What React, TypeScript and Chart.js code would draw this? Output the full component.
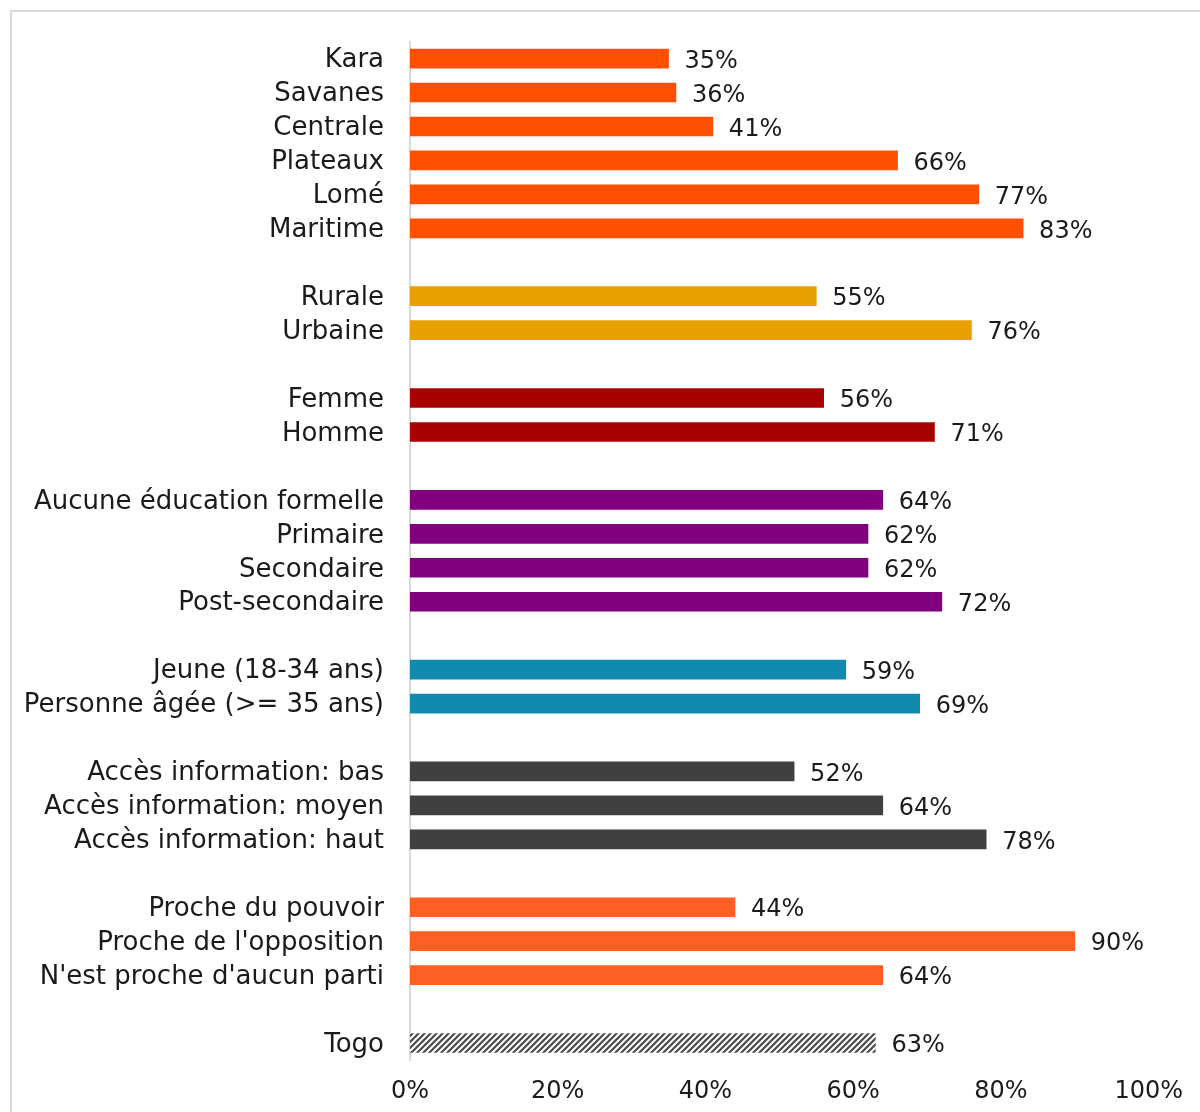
import React, { useEffect, useRef } from "react";
import { Chart, registerables } from "chart.js";

Chart.register(...registerables);

const categories: string[] = [
  "Kara", "Savanes", "Centrale", "Plateaux", "Lomé", "Maritime", "",
  "Rurale", "Urbaine", "",
  "Femme", "Homme", "",
  "Aucune éducation formelle", "Primaire", "Secondaire", "Post-secondaire", "",
  "Jeune (18-34 ans)", "Personne âgée (>= 35 ans)", "",
  "Accès information: bas", "Accès information: moyen", "Accès information: haut", "",
  "Proche du pouvoir", "Proche de l'opposition", "N'est proche d'aucun parti", "",
  "Togo",
];

const values: (number | null)[] = [
  35, 36, 41, 66, 77, 83, null,
  55, 76, null,
  56, 71, null,
  64, 62, 62, 72, null,
  59, 69, null,
  52, 64, 78, null,
  44, 90, 64, null,
  63,
];

const groups: string[] = [
  "region", "region", "region", "region", "region", "region", "",
  "milieu", "milieu", "",
  "genre", "genre", "",
  "education", "education", "education", "education", "",
  "age", "age", "",
  "info", "info", "info", "",
  "parti", "parti", "parti", "",
  "total",
];

const xTicks: number[] = [0, 20, 40, 60, 80, 100];

const groupColors: Record<string, string> = {
  region: "#FF5000",
  milieu: "#E89F00",
  genre: "#A80000",
  education: "#800080",
  age: "#1289AE",
  info: "#404040",
  parti: "#FF5F22",
  "": "#ffffff",
};

const FONT = "'DejaVu Sans', sans-serif";
const LABEL_SIZE = 26;
const VALUE_SIZE = 24;
const TEXT_COLOR = "#1a1a1a";

function makeHatch(): CanvasPattern | string {
  const c = document.createElement("canvas");
  const s = 6;
  c.width = s;
  c.height = s;
  const ctx = c.getContext("2d");
  if (!ctx) return "#404040";
  ctx.fillStyle = "#ffffff";
  ctx.fillRect(0, 0, s, s);
  ctx.strokeStyle = "#4a4a4a";
  ctx.lineWidth = 2.2;
  ctx.beginPath();
  ctx.moveTo(-1, s + 1);
  ctx.lineTo(s + 1, -1);
  ctx.moveTo(-1, 1);
  ctx.lineTo(1, -1);
  ctx.moveTo(s - 1, s + 1);
  ctx.lineTo(s + 1, s - 1);
  ctx.stroke();
  const p = ctx.createPattern(c, "repeat");
  return p || "#404040";
}

const valueLabels = {
  id: "valueLabels",
  afterDatasetsDraw(chart: any) {
    const ctx = chart.ctx;
    const meta = chart.getDatasetMeta(0);
    const data = chart.data.datasets[0].data;
    ctx.save();
    ctx.font = `${VALUE_SIZE}px ${FONT}`;
    ctx.fillStyle = TEXT_COLOR;
    ctx.textAlign = "left";
    ctx.textBaseline = "middle";
    meta.data.forEach((el: any, i: number) => {
      const v = data[i];
      if (v === null || v === undefined) return;
      ctx.fillText(`${v}%`, el.x + 16, el.y + 3);
    });
    ctx.restore();
  },
};

export default function App() {
  const ref = useRef<HTMLCanvasElement | null>(null);

  useEffect(() => {
    document.body.style.margin = "0";
    const canvas = ref.current;
    if (!canvas) return;
    const hatch = makeHatch();
    const colors = groups.map((g) => (g === "total" ? hatch : groupColors[g]));
    const chart = new Chart(canvas, {
      type: "bar",
      data: {
        labels: categories,
        datasets: [
          {
            data: values as any,
            backgroundColor: colors as any,
            borderWidth: 0,
            barThickness: 19,
          },
        ],
      },
      options: {
        indexAxis: "y",
        animation: false,
        responsive: false,
        devicePixelRatio: 1,
        layout: { padding: { top: 40, right: 48, left: 0, bottom: 0 } },
        plugins: {
          legend: { display: false },
          tooltip: { enabled: false },
          title: { display: false },
        },
        scales: {
          x: {
            min: 0,
            max: 100,
            afterFit: (s: any) => {
              s.height = 52;
            },
            afterBuildTicks: (s: any) => {
              s.ticks = xTicks.map((v) => ({ value: v }));
            },
            grid: { display: false, drawTicks: false },
            border: { display: false },
            ticks: {
              padding: 17,
              color: TEXT_COLOR,
              font: { family: FONT, size: VALUE_SIZE },
              callback: (v: any) => `${v}%`,
              maxRotation: 0,
            },
          },
          y: {
            afterFit: (s: any) => {
              s.width = 410;
            },
            grid: { display: false, drawTicks: false },
            border: { display: true, color: "#d9d9d9", width: 2 },
            ticks: {
              padding: 26,
              labelOffset: 2,
              color: TEXT_COLOR,
              font: { family: FONT, size: LABEL_SIZE },
              autoSkip: false,
            },
          },
        },
      },
      plugins: [valueLabels],
    });
    return () => chart.destroy();
  }, []);

  return (
    <div style={{ position: "relative", width: 1200, height: 1112, overflow: "hidden", background: "#fff" }}>
      <div
        style={{
          position: "absolute",
          left: 10,
          top: 10,
          width: 1300,
          height: 1300,
          border: "2px solid #d9d9d9",
          boxSizing: "border-box",
        }}
      />
      <canvas
        ref={ref}
        width={1200}
        height={1112}
        style={{ position: "absolute", left: 0, top: 0, width: 1200, height: 1112 }}
      />
    </div>
  );
}
